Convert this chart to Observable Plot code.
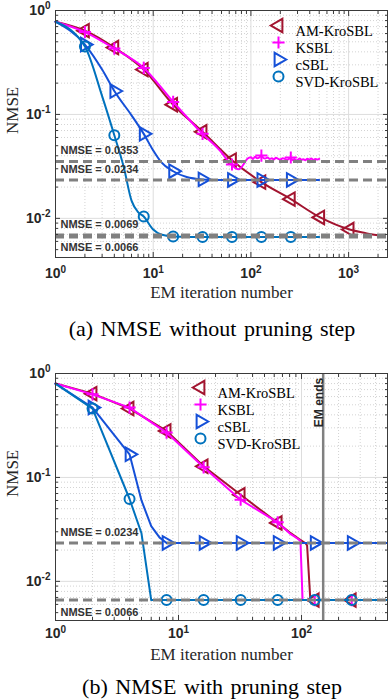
<!DOCTYPE html>
<html>
<head>
<meta charset="utf-8">
<script src="https://cdn.jsdelivr.net/npm/d3@7"></script>
<script src="https://cdn.jsdelivr.net/npm/@observablehq/plot@0.6"></script>
<style>
html,body{margin:0;padding:0;background:#fff;}
#wrap{position:relative;width:388px;height:700px;overflow:hidden;background:#fff;}
.panel{position:absolute;left:0;}
.cap{position:absolute;left:212px;transform:translateX(-50%);white-space:nowrap;font-family:"Liberation Serif","Times New Roman",serif;font-size:22px;line-height:22px;word-spacing:2px;color:#000;}
</style>
</head>
<body>
<div id="wrap">
  <div class="panel" id="pa" style="top:0"></div>
  <div class="cap" style="top:318px">(a) NMSE without pruning step</div>
  <div class="panel" id="pb" style="top:353px"></div>
  <div class="cap" style="top:676px">(b) NMSE with pruning step</div>
</div>
<script>
// ---------------- data ----------------
const seriesNames   = ["AM-KroSBL", "KSBL", "cSBL", "SVD-KroSBL"];
const seriesColors  = ["#A2142F", "#FF00FF", "#1550D8", "#0072BD"];
const markerIters   = [2, 4, 8, 16, 32, 64, 128, 256, 512, 1024];

// (a) without pruning
const a_am_iter   = [1, 2, 4, 8, 16, 32, 64, 128, 256, 512, 1024, 1500, 2000];
const a_am_nmse   = [0.78, 0.64, 0.44, 0.27, 0.124, 0.068, 0.0363, 0.0223, 0.0153, 0.0102, 0.0078, 0.0072, 0.00688];
const a_ksbl_iter = [1, 2, 4, 8, 16, 32, 48, 58, 64, 70, 75, 82, 92, 100, 105, 110, 116, 122, 128, 134, 140, 148, 156, 164, 172, 180, 190, 200, 212, 224, 236, 248, 256, 266, 278, 290, 302, 316, 330, 345, 360, 378, 396, 415, 435, 455, 478, 500];
const a_ksbl_nmse = [0.78, 0.62, 0.43, 0.28, 0.132, 0.065, 0.045, 0.036, 0.033, 0.0302, 0.0297, 0.032, 0.0375, 0.0387, 0.0372, 0.0392, 0.0378, 0.0385, 0.0402, 0.0381, 0.0376, 0.0385, 0.0372, 0.0378, 0.0369, 0.0383, 0.0374, 0.0368, 0.0379, 0.0371, 0.0366, 0.0377, 0.0385, 0.0363, 0.0372, 0.0359, 0.0367, 0.0376, 0.0366, 0.0371, 0.0362, 0.0374, 0.0368, 0.0377, 0.0365, 0.0372, 0.0369, 0.0374];
const a_csbl_iter = [1, 2, 3, 4, 6, 8, 10, 12, 16, 22, 32, 45, 64, 128, 256, 500];
const a_csbl_nmse = [0.78, 0.47, 0.27, 0.168, 0.098, 0.065, 0.045, 0.035, 0.0284, 0.025, 0.0237, 0.0234, 0.0234, 0.0234, 0.0234, 0.0234];
const a_svd_iter  = [1, 2, 3, 4, 5, 6, 7, 8, 10, 12, 16, 32, 64, 128, 256, 500];
const a_svd_nmse  = [0.78, 0.45, 0.15, 0.063, 0.031, 0.0148, 0.0115, 0.0104, 0.0078, 0.007, 0.0067, 0.0066, 0.0066, 0.0066, 0.0066, 0.0066];
const a_refNmse   = [0.0353, 0.0234, 0.0069, 0.0066];
const a_refBelow  = [false, false, false, true];

// (b) with pruning
const b_am_iter   = [1, 2, 4, 8, 16, 32, 64, 80, 95, 108, 111, 118, 128, 256, 500];
const b_am_nmse   = [0.8, 0.64, 0.46, 0.28, 0.128, 0.068, 0.0365, 0.0296, 0.0256, 0.0232, 0.0222, 0.0066, 0.0066, 0.0066, 0.0066];
const b_ksbl_iter = [1, 2, 4, 8, 16, 32, 64, 80, 92, 98, 102, 128, 256, 500];
const b_ksbl_nmse = [0.8, 0.63, 0.47, 0.27, 0.125, 0.061, 0.037, 0.029, 0.026, 0.0245, 0.0066, 0.0066, 0.0066, 0.0066];
const b_csbl_iter = [1, 2, 4, 5, 6, 7, 8, 16, 32, 64, 128, 256, 500];
const b_csbl_nmse = [0.8, 0.47, 0.167, 0.06, 0.034, 0.0265, 0.0234, 0.0234, 0.0234, 0.0234, 0.0234, 0.0234, 0.0234];
const b_svd_iter  = [1, 2, 4, 5, 6, 8, 16, 32, 64, 128, 256, 500];
const b_svd_nmse  = [0.8, 0.46, 0.062, 0.029, 0.0066, 0.0066, 0.0066, 0.0066, 0.0066, 0.0066, 0.0066, 0.0066];
const b_refNmse   = [0.0234, 0.0066];
const b_refBelow  = [false, true];
const b_emEnd     = [150];

// ticks
const yMajor   = [0.01, 0.1, 1];
const yMinor   = [0.005, 0.006, 0.007, 0.008, 0.009, 0.02, 0.03, 0.04, 0.05, 0.06, 0.07, 0.08, 0.09, 0.2, 0.3, 0.4, 0.5, 0.6, 0.7, 0.8, 0.9];
const a_xMajor = [1, 10, 100, 1000];
const a_xMinor = [2, 3, 4, 5, 6, 7, 8, 9, 20, 30, 40, 50, 60, 70, 80, 90, 200, 300, 400, 500, 600, 700, 800, 900, 2000];
const b_xMajor = [1, 10, 100];
const b_xMinor = [2, 3, 4, 5, 6, 7, 8, 9, 20, 30, 40, 50, 60, 70, 80, 90, 200, 300, 400];

// ---------------- symbols ----------------
const S3 = Math.sqrt(3);
const triLeft = {draw(ctx, size) { const y = -Math.sqrt(size / (S3 * 3)); ctx.moveTo(2 * y, 0); ctx.lineTo(-y, S3 * y); ctx.lineTo(-y, -S3 * y); ctx.closePath(); }};
const triRight = {draw(ctx, size) { const y = -Math.sqrt(size / (S3 * 3)); ctx.moveTo(-2 * y, 0); ctx.lineTo(y, S3 * y); ctx.lineTo(y, -S3 * y); ctx.closePath(); }};
const seriesSymbols = [triLeft, "plus", triRight, "circle"];
const seriesR = [5, 4, 5, 5];

const SANS = "'Liberation Sans', Arial, Helvetica, sans-serif";
const SERIF = "'Liberation Serif', 'Times New Roman', serif";
const expFmt = d => String(Math.round(Math.log10(d)));

function rows(iters, vals) { return iters.map((x, i) => ({x, y: vals[i]})); }

function panel(cfg) {
  const marks = [];
  const tickStroke = "#3a3a3a";
  marks.push(Plot.gridX(cfg.xMinor, {stroke: "#999", strokeOpacity: 0.55, strokeDasharray: "1,2", strokeWidth: 0.8}));
  marks.push(Plot.gridY(yMinor, {stroke: "#999", strokeOpacity: 0.55, strokeDasharray: "1,2", strokeWidth: 0.8}));
  marks.push(Plot.gridX(cfg.xMajor, {stroke: "#dddddd", strokeOpacity: 1}));
  marks.push(Plot.gridY(yMajor, {stroke: "#dddddd", strokeOpacity: 1}));
  cfg.series.forEach((s, k) => {
    const data = rows(s[0], s[1]);
    marks.push(Plot.line(data, {x: "x", y: "y", stroke: seriesColors[k], strokeWidth: 2, curve: cfg.curve}));
    marks.push(Plot.dot(data.filter(d => markerIters.includes(d.x)), {x: "x", y: "y", symbol: seriesSymbols[k], r: seriesR[k], stroke: seriesColors[k], strokeWidth: 2, fill: "none"}));
  });
  marks.push(Plot.ruleY(cfg.refs, {stroke: "#808080", strokeWidth: 3, strokeDasharray: "9,5"}));
  const refRows = cfg.refs.map((v, i) => ({v, below: cfg.below[i]}));
  marks.push(Plot.text(refRows.filter(d => !d.below), {y: "v", text: d => "NMSE = " + d.v.toFixed(4), frameAnchor: "left", textAnchor: "start", dx: 5, dy: -11, fontFamily: SANS, fontWeight: "bold", fontSize: 11, fill: "#333"}));
  marks.push(Plot.text(refRows.filter(d => d.below), {y: "v", text: d => "NMSE = " + d.v.toFixed(4), frameAnchor: "left", textAnchor: "start", dx: 5, dy: cfg.belowDy, fontFamily: SANS, fontWeight: "bold", fontSize: 11, fill: "#333"}));
  if (cfg.emEnd) {
    marks.push(Plot.ruleX(cfg.emEnd, {stroke: "#808080", strokeWidth: 2.5}));
    marks.push(Plot.text(cfg.emEnd, {x: d => d, text: () => "EM ends", frameAnchor: "top", dy: 29, dx: -9, rotate: -90, fontFamily: SANS, fontWeight: "bold", fontSize: 12, fill: "#262626"}));
  }
  // legend
  seriesNames.forEach((name, k) => {
    marks.push(Plot.dot([name], {frameAnchor: "top-right", dx: cfg.legDx, dy: cfg.legDy + 17 * k, symbol: seriesSymbols[k], r: seriesR[k], stroke: seriesColors[k], strokeWidth: 2, fill: "none"}));
    marks.push(Plot.text([name], {text: d => d, frameAnchor: "top-right", textAnchor: "start", dx: cfg.legDx + 17, dy: cfg.legDy + 17 * k, fontFamily: SERIF, fontSize: 14.5, fill: "#000"}));
  });
  marks.push(Plot.frame({stroke: "#3a3a3a", strokeWidth: 1}));
  // inward ticks
  marks.push(Plot.axisX(cfg.xMajor, {anchor: "bottom", tickSize: 5, dy: -5, fill: "none", stroke: tickStroke, label: null}));
  marks.push(Plot.axisX(cfg.xMajor, {anchor: "top", tickSize: 5, dy: 5, fill: "none", stroke: tickStroke, label: null}));
  marks.push(Plot.axisX(cfg.xMinor, {anchor: "bottom", tickSize: 3, dy: -3, fill: "none", stroke: tickStroke, label: null}));
  marks.push(Plot.axisX(cfg.xMinor, {anchor: "top", tickSize: 3, dy: 3, fill: "none", stroke: tickStroke, label: null}));
  marks.push(Plot.axisY(yMajor, {anchor: "left", tickSize: 5, dx: 5, fill: "none", stroke: tickStroke, label: null}));
  marks.push(Plot.axisY(yMajor, {anchor: "right", tickSize: 5, dx: -5, fill: "none", stroke: tickStroke, label: null}));
  marks.push(Plot.axisY(yMinor, {anchor: "left", tickSize: 3, dx: 3, fill: "none", stroke: tickStroke, label: null}));
  marks.push(Plot.axisY(yMinor, {anchor: "right", tickSize: 3, dx: -3, fill: "none", stroke: tickStroke, label: null}));
  // tick labels
  marks.push(Plot.axisX(cfg.xMajor, {anchor: "bottom", tickSize: 0, tickPadding: cfg.xPad, tickFormat: expFmt, fontFamily: SANS, fontSize: 14, fontWeight: "bold", fill: "#262626", label: null}));
  marks.push(Plot.axisY(yMajor, {anchor: "left", tickSize: 0, tickPadding: 5, tickFormat: expFmt, fontFamily: SANS, fontSize: 14, fontWeight: "bold", fill: "#262626", label: null}));
  // axis titles
  marks.push(Plot.text(["EM iteration number"], {text: d => d, frameAnchor: "bottom", dy: cfg.xLabelDy, fontFamily: SERIF, fontSize: 17, fill: "#262626"}));
  marks.push(Plot.text(["NMSE"], {text: d => d, frameAnchor: "left", dx: -43, rotate: -90, fontFamily: SERIF, fontSize: 17, fill: "#262626"}));

  const svg = Plot.plot({
    width: 388, height: cfg.height,
    marginLeft: 55, marginRight: 1, marginTop: cfg.marginTop, marginBottom: cfg.marginBottom,
    x: {type: "log", domain: cfg.xDomain},
    y: {type: "log", domain: [0.0042, 1]},
    style: {background: "white", fontFamily: SANS},
    marks
  });
  // superscript exponents on tick labels
  const NS = "http://www.w3.org/2000/svg";
  svg.querySelectorAll("text").forEach(t => {
    const e = t.textContent;
    if (/^-?\d$/.test(e)) {
      t.textContent = "";
      const base = document.createElementNS(NS, "tspan"); base.textContent = "10";
      const sup = document.createElementNS(NS, "tspan"); sup.textContent = e;
      sup.setAttribute("dy", "-5.5"); sup.setAttribute("font-size", "10");
      t.append(base, sup);
    }
  });
  return svg;
}

document.getElementById("pa").append(panel({
  height: 306, marginTop: 10, marginBottom: 49, xDomain: [1, 2500],
  xMajor: a_xMajor, xMinor: a_xMinor, curve: "monotone-x",
  series: [[a_am_iter, a_am_nmse], [a_ksbl_iter, a_ksbl_nmse], [a_csbl_iter, a_csbl_nmse], [a_svd_iter, a_svd_nmse]],
  refs: a_refNmse, below: a_refBelow, belowDy: 10,
  legDx: -109, legDy: 15, xPad: 11, xLabelDy: 40
}));
document.getElementById("pb").append(panel({
  height: 317, marginTop: 20, marginBottom: 50, xDomain: [1, 500],
  xMajor: b_xMajor, xMinor: b_xMinor, curve: "linear",
  series: [[b_am_iter, b_am_nmse], [b_ksbl_iter, b_ksbl_nmse], [b_csbl_iter, b_csbl_nmse], [b_svd_iter, b_svd_nmse]],
  refs: b_refNmse, below: b_refBelow, belowDy: 12, emEnd: b_emEnd,
  legDx: -187, legDy: 14, xPad: 8, xLabelDy: 39
}));
</script>
</body>
</html>
